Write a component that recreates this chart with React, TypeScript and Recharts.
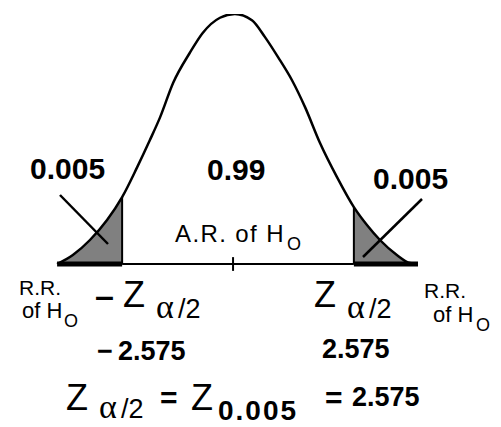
import React from "react";
import { ComposedChart, Line, Area, XAxis, YAxis, ReferenceLine } from "recharts";

// z positions (density-like units)
const zValues = [-4.02, -3.67, -3.29, -2.91, -2.575, -2.24, -1.96, -1.73, -1.44, -1.07, -0.78, -0.4, -0.07, 0.31, 0.6, 0.89, 1.2, 1.49, 1.82, 2.2, 2.575, 2.87, 3.16, 3.53, 3.82, 4.0];
const densityValues = [0, 0.0144, 0.0384, 0.0704, 0.107, 0.155, 0.198, 0.235, 0.29, 0.338, 0.37, 0.394, 0.4, 0.39, 0.363, 0.331, 0.294, 0.251, 0.194, 0.139, 0.091, 0.062, 0.038, 0.0144, 0.0016, 0];

const criticalLow = -2.575;
const criticalHigh = 2.575;
const meanTick = -0.11;
const leftPointer = [{ x: -3.956, y: 0.1104 }, { x: -2.889, y: 0.032 }];
const rightPointer = [{ x: 4.089, y: 0.104 }, { x: 2.778, y: 0.0112 }];

const data = zValues.map((z, i) => ({
  z,
  density: densityValues[i],
  leftTail: z <= criticalLow ? densityValues[i] : null,
  rightTail: z >= criticalHigh ? densityValues[i] : null,
}));

const zMin = zValues[0];
const zMax = zValues[zValues.length - 1];
const leftCritHeight = densityValues[zValues.indexOf(criticalLow)];
const rightCritHeight = densityValues[zValues.indexOf(criticalHigh)];

const SANS = "'Liberation Sans', Arial, sans-serif";
const SERIF = "'Liberation Serif', 'Times New Roman', serif";

function ZAlpha({ x, y, sub = 11 }: { x: number; y: number; sub?: number }) {
  return (
    <>
      <text x={x} y={y} fontSize={36}>Z</text>
      <text x={x + 33} y={y + sub} fontSize={34} fontFamily={SERIF}>α</text>
      <text x={x + 55} y={y + sub} fontSize={27}>/2</text>
    </>
  );
}

export default function App() {
  return (
    <div style={{ position: "absolute", left: 0, top: 0, width: 501, height: 427, background: "#fff" }}>
      <ComposedChart width={501} height={427} data={data} margin={{ top: 14, right: 38, bottom: 163, left: 13 }}>
        <XAxis dataKey="z" type="number" domain={[-5, 5]} hide allowDataOverflow />
        <YAxis type="number" domain={[0, 0.4]} hide allowDataOverflow />
        <Area dataKey="leftTail" type="monotone" fill="#808080" fillOpacity={1} stroke="none" isAnimationActive={false} connectNulls={false} />
        <Area dataKey="rightTail" type="monotone" fill="#808080" fillOpacity={1} stroke="none" isAnimationActive={false} connectNulls={false} />
        <Line dataKey="density" type="monotone" stroke="#000" strokeWidth={2.5} dot={false} isAnimationActive={false} />
        <ReferenceLine segment={[{ x: criticalLow, y: 0 }, { x: criticalHigh, y: 0 }]} stroke="#000" strokeWidth={2} ifOverflow="visible" />
        <ReferenceLine segment={[{ x: zMin, y: 0 }, { x: criticalLow, y: 0 }]} stroke="#000" strokeWidth={5} ifOverflow="visible" />
        <ReferenceLine segment={[{ x: criticalHigh, y: 0 }, { x: zMax, y: 0 }]} stroke="#000" strokeWidth={5} ifOverflow="visible" />
        <ReferenceLine segment={[{ x: criticalLow, y: 0 }, { x: criticalLow, y: leftCritHeight }]} stroke="#000" strokeWidth={2} ifOverflow="visible" />
        <ReferenceLine segment={[{ x: criticalHigh, y: 0 }, { x: criticalHigh, y: rightCritHeight }]} stroke="#000" strokeWidth={2} ifOverflow="visible" />
        <ReferenceLine segment={[{ x: meanTick, y: -0.011 }, { x: meanTick, y: 0.011 }]} stroke="#000" strokeWidth={2} ifOverflow="visible" />
        <ReferenceLine segment={leftPointer} stroke="#000" strokeWidth={2.5} ifOverflow="visible" />
        <ReferenceLine segment={rightPointer} stroke="#000" strokeWidth={2.5} ifOverflow="visible" />
      </ComposedChart>
      <svg width={501} height={427} style={{ position: "absolute", left: 0, top: 0, pointerEvents: "none" }}>
        <g fontFamily={SANS} fill="#000">
          <text x={30} y={179} fontSize={30} fontWeight="bold">0.005</text>
          <text x={207} y={180} fontSize={30} fontWeight="bold">0.99</text>
          <text x={373} y={189} fontSize={30} fontWeight="bold">0.005</text>

          <text x={175} y={242} fontSize={24} letterSpacing={1.4}>A.R. of H</text>
          <text x={287} y={250} fontSize={18}>O</text>

          <text x={19} y={295} fontSize={21}>R.R.</text>
          <text x={22} y={318} fontSize={22}>of H</text>
          <text x={64} y={327} fontSize={18}>O</text>

          <text x={95} y={307} fontSize={34} fontWeight="bold">–</text>
          <ZAlpha x={123} y={307} />

          <ZAlpha x={314} y={307} />

          <text x={424} y={298} fontSize={21}>R.R.</text>
          <text x={433} y={322} fontSize={22}>of H</text>
          <text x={476} y={331} fontSize={18}>O</text>

          <text x={97} y={360} fontSize={27} fontWeight="bold">−</text>
          <text x={118} y={360} fontSize={27} fontWeight="bold">2.575</text>
          <text x={322} y={358} fontSize={27} fontWeight="bold">2.575</text>

          <ZAlpha x={66} y={410} sub={8} />
          <text x={160} y={408} fontSize={30} fontWeight="bold">=</text>
          <text x={191} y={410} fontSize={36}>Z</text>
          <text x={218} y={420} fontSize={28} fontWeight="bold" letterSpacing={2}>0.005</text>
          <text x={325} y={408} fontSize={30} fontWeight="bold">=</text>
          <text x={352} y={406} fontSize={27} fontWeight="bold">2.575</text>
        </g>
      </svg>
    </div>
  );
}
